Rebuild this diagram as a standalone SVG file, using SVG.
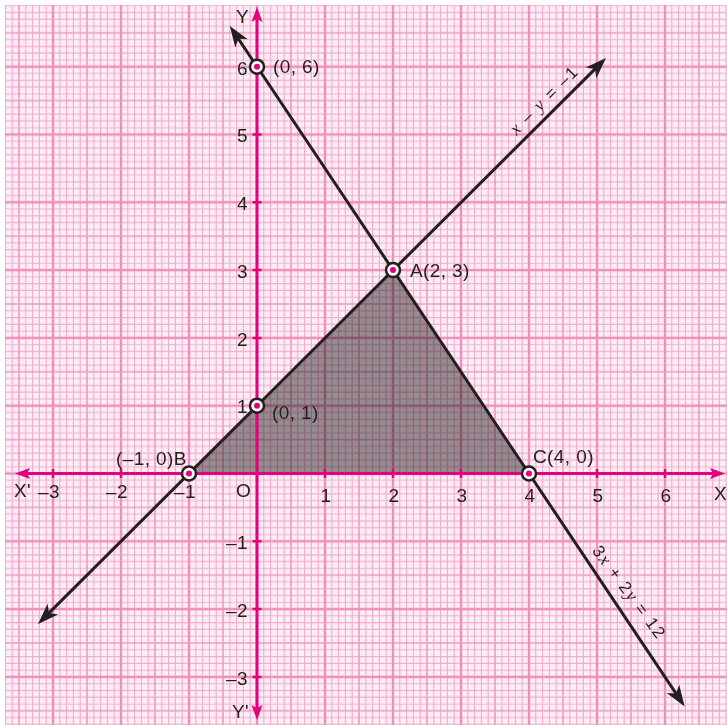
<svg xmlns="http://www.w3.org/2000/svg" width="727" height="725" viewBox="0 0 727 725">
<style>
.lbl{font-family:"Liberation Sans",Arial,sans-serif;font-size:19px;fill:#231f20;letter-spacing:0.4px}
.mid{text-anchor:middle}
.end{text-anchor:end}
.eq{font-family:"Liberation Sans",Arial,sans-serif;font-size:17px;fill:#231f20}
.var{font-family:"Liberation Serif","Times New Roman",serif;font-style:italic;font-size:18px}
.axis{stroke:#e6007e;stroke-width:3;fill:none}
.tick{stroke:#e6007e;stroke-width:2.5;fill:none}
.graph{stroke:#231f20;stroke-width:3;fill:none}
.pt circle.o{fill:#fff;stroke:#231f20;stroke-width:2.5}
.pt circle.i{fill:#e6007e}
</style>
<defs>
<pattern id="grid" patternUnits="userSpaceOnUse" x="257" y="473.5" width="68" height="67.8">
<rect width="68" height="67.8" fill="#fdeef5"/>
<path d="M6.8,0V67.8M13.6,0V67.8M20.4,0V67.8M27.2,0V67.8M40.8,0V67.8M47.6,0V67.8M54.4,0V67.8M61.2,0V67.8M0,6.78H68M0,13.56H68M0,20.34H68M0,27.12H68M0,40.68H68M0,47.46H68M0,54.24H68M0,61.02H68" stroke="#f4acce" stroke-width="1.1"/>
<path d="M34,0V67.8M0,33.9H68" stroke="#f199c2" stroke-width="1.6"/>
<path d="M0,0V67.8M68,0V67.8M0,0H68M0,67.8H68" stroke="#ee8fbd" stroke-width="2.4"/>
</pattern>
<marker id="arrK" markerUnits="userSpaceOnUse" markerWidth="40" markerHeight="40" refX="-10" refY="0" orient="auto-start-reverse" overflow="visible">
<path d="M0,0 L-21,-7.5 L-15.5,0 L-21,7.5 Z" fill="#231f20"/>
</marker>
<marker id="arrM" markerUnits="userSpaceOnUse" markerWidth="30" markerHeight="30" refX="-7" refY="0" orient="auto-start-reverse" overflow="visible">
<path d="M0,0 L-15,-5.5 L-12,0 L-15,5.5 Z" fill="#e6007e"/>
</marker>
</defs>
<rect x="0" y="0" width="727" height="725" fill="#fff"/>
<rect id="paper" x="5" y="5" width="722" height="720" fill="url(#grid)"/>
<polygon id="region" points="189,473.5 393,270.1 529,473.5" fill="#969696" style="mix-blend-mode:multiply"/>
<g id="axes">
<path class="axis" d="M22,473.5H718" marker-start="url(#arrM)" marker-end="url(#arrM)"/>
<path class="axis" d="M257,14V713" marker-start="url(#arrM)" marker-end="url(#arrM)"/>
<path class="tick" d="M53,469V478M121,469V478M189,469V478M325,469V478M393,469V478M461,469V478M529,469V478M597,469V478M665,469V478"/>
<path class="tick" d="M252.5,66.7H261.5M252.5,134.5H261.5M252.5,202.3H261.5M252.5,270.1H261.5M252.5,337.9H261.5M252.5,405.7H261.5M252.5,541.3H261.5M252.5,609.1H261.5M252.5,676.9H261.5"/>
</g>
<g id="connectors">
<path id="line-x-y" class="graph" d="M45.1,616.9L598.9,65.1" marker-start="url(#arrK)" marker-end="url(#arrK)"/>
<path id="line-3x-2y" class="graph" d="M235.4,34.3L679.1,698.1" marker-start="url(#arrK)" marker-end="url(#arrK)"/>
</g>
<g id="axis-labels" class="lbl">
<text x="14" y="497">X'</text>
<text x="714" y="500">X</text>
<text x="236" y="23">Y</text>
<text x="232" y="718">Y'</text>
<text class="mid" x="49" y="498">–3</text>
<text class="mid" x="117" y="498">–2</text>
<text class="mid" x="185" y="498">–1</text>
<text x="236" y="497">O</text>
<text class="mid" x="326" y="502">1</text>
<text class="mid" x="394" y="502">2</text>
<text class="mid" x="462" y="502">3</text>
<text class="mid" x="530" y="502">4</text>
<text class="mid" x="598" y="502">5</text>
<text class="mid" x="666" y="502">6</text>
<text class="end" x="248" y="74.5">6</text>
<text class="end" x="248" y="142">5</text>
<text class="end" x="248" y="210">4</text>
<text class="end" x="248" y="277.5">3</text>
<text class="end" x="248" y="345.5">2</text>
<text class="end" x="248" y="413">1</text>
<text class="end" x="248" y="548.5">–1</text>
<text class="end" x="248" y="616.5">–2</text>
<text class="end" x="248" y="684.5">–3</text>
</g>
<g id="pt-0-6" class="pt">
<circle class="o" cx="257" cy="66.7" r="7"/><circle class="i" cx="257" cy="66.7" r="3"/>
<text class="lbl" x="273" y="73">(0, 6)</text>
</g>
<g id="pt-A" class="pt">
<circle class="o" cx="393" cy="270.1" r="7"/><circle class="i" cx="393" cy="270.1" r="3"/>
<text class="lbl" x="410" y="276.5">A(2, 3)</text>
</g>
<g id="pt-0-1" class="pt">
<circle class="o" cx="257" cy="405.7" r="7"/><circle class="i" cx="257" cy="405.7" r="3"/>
<text class="lbl" x="272" y="419">(0, 1)</text>
</g>
<g id="pt-B" class="pt">
<circle class="o" cx="189" cy="473.5" r="7"/><circle class="i" cx="189" cy="473.5" r="3"/>
<text class="lbl" x="116" y="465">(–1, 0)B</text>
</g>
<g id="pt-C" class="pt">
<circle class="o" cx="529" cy="473.5" r="7"/><circle class="i" cx="529" cy="473.5" r="3"/>
<text class="lbl" x="533" y="463">C(4, 0)</text>
</g>
<g id="eq-labels">
<text class="eq" text-anchor="middle" transform="translate(547.6,104.6) rotate(-44.9)" textLength="88" lengthAdjust="spacing"><tspan class="var">x</tspan> – <tspan class="var">y</tspan> = –1</text>
<text class="eq" text-anchor="middle" transform="translate(624.2,595.1) rotate(53.6)" textLength="110" lengthAdjust="spacing">3<tspan class="var">x</tspan> + 2<tspan class="var">y</tspan> = 12</text>
</g>
</svg>
